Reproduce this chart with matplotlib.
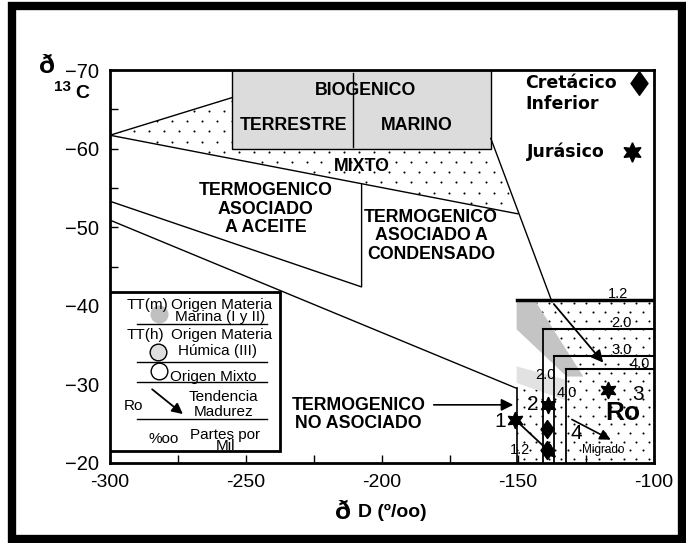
import numpy as np
import matplotlib.pyplot as plt
from matplotlib.patches import Polygon, Rectangle

plt.rcParams['font.family'] = ['Liberation Sans', 'DejaVu Sans']

# --- zonas del diagrama (dD, d13C) ---
bio_x = [-255, -160]
bio_y = [-70, -60]
bio_div_x = -210.5
mixto_x = [-300, -255, -255, -160, -150]
mixto_y = [-61.7, -66.5, -60, -60, -51.7]
aceite_x = [-300, -207.5, -207.5]
aceite_y = [-53.3, -42.4, -55.5]
noasoc_x = [-300, -150.5]
noasoc_y = [-50.9, -29.5]
tend_x = [-160, -137.5, -118]
tend_y = [-61.3, -40.5, -32.5]

# cajas de Ro
ro_labels = ['1.2', '2.0', '3.0', '4.0']
ro_left = [-150.5, -140.7, -136.8, -132.4]
ro_top = [-40.7, -37.1, -33.6, -31.9]
ro_lab_x = [-113.1, -111.9, -111.9, -105.1]
ro_lab2 = ['2.0', '4.0', '1.2']
ro_lab2_x = [-140, -132.1, -149.3]
ro_lab2_y = [-31.2, -28.9, -21.7]
bandaA_x = [-150.5, -143.8, -126.0, -132.1, -150.5]
bandaA_y = [-40.7, -40.7, -31.0, -31.0, -37.0]
bandaB_x = [-150.5, -150.5, -132.7, -132.7]
bandaB_y = [-32.3, -30.2, -28.0, -30.6]
punt_ro_x = [-143.8, -100, -100, -150.5, -150.5, -132]
punt_ro_y = [-40.7, -40.7, -20, -20, -31, -31]

# muestras
jur_x = [-151, -138.9, -116.8]
jur_y = [-25.5, -27.4, -29.3]
cret_x = [-139.5, -139.5]
cret_y = [-24.3, -21.7]
num_lab = ['1', '2', '3', '4']
num_x = [-156.6, -144.4, -105.8, -128.5]
num_y = [-25.3, -27.4, -28.7, -23.8]
mig_ini = (-131.1, -25.7)
mig_fin = (-115, -22.8)
m1_fin = (-135.2, -20.4)

rombo = [(0, 1), (0.72, 0), (0, -1), (-0.72, 0), (0, 1)]

fig = plt.figure(figsize=(6.86, 5.43), dpi=100)
ax = fig.add_axes([110/686, 80/543, 544/686, 393/543])
ax.set_xlim(-300, -100)
ax.set_ylim(-20, -70)


def puntos(xs, ys, dx, dy):
    poly = Polygon(list(zip(xs, ys)), closed=True, fill=False, ec='none')
    ax.add_patch(poly)
    gx, gy = np.meshgrid(np.arange(-302, -98, dx), np.arange(-70, -19, dy))
    gx[1::2] += dx / 2
    sc = ax.scatter(gx.ravel(), gy.ravel(), s=2.2, c='k', lw=0, zorder=1.5)
    sc.set_clip_path(poly)


# biogenico
ax.add_patch(Rectangle((bio_x[0], bio_y[0]), bio_x[1] - bio_x[0], bio_y[1] - bio_y[0],
                       fc='#dcdcdc', ec='black', lw=1, zorder=2))
ax.plot([bio_div_x, bio_div_x], [-69.6, -60.2], color='black', lw=1, zorder=3)

# mixto punteado
puntos(mixto_x, mixto_y, 5.5, 1.3)
ax.plot(mixto_x[:2], mixto_y[:2], color='black', lw=1)
ax.plot([mixto_x[0], mixto_x[-1]], [mixto_y[0], mixto_y[-1]], color='black', lw=1)
ax.plot(aceite_x, aceite_y, color='black', lw=1)
ax.plot(noasoc_x, noasoc_y, color='black', lw=1)
ax.plot(tend_x[:2], tend_y[:2], color='black', lw=1)
ax.annotate('', xy=(tend_x[2], tend_y[2]), xytext=(tend_x[1], tend_y[1]),
            arrowprops=dict(arrowstyle='-|>', mutation_scale=18, lw=1.3, color='black'))

# zona Ro
puntos(punt_ro_x, punt_ro_y, 4.6, 1.1)
ax.fill(bandaA_x, bandaA_y, color='#c4c4c4', lw=0, zorder=2)
ax.fill(bandaB_x, bandaB_y, color='#e2e2e2', lw=0, zorder=2)
for i, (l, t) in enumerate(zip(ro_left, ro_top)):
    w = 2.5 if i == 0 else 1.5
    ax.plot([l, -100], [t, t], color='black', lw=w, zorder=3)
    if i == 0:
        ax.plot([l, l], [noasoc_y[1], -20], color='black', lw=1.2, zorder=3)
    else:
        ax.plot([l, l], [t, -20], color='black', lw=1.3, zorder=3)
    ax.text(ro_lab_x[i], t + 0.15, ro_labels[i], fontsize=10.5, ha='center',
            va='bottom', zorder=6)
for lab, x, y in zip(ro_lab2, ro_lab2_x, ro_lab2_y):
    ax.text(x, y, lab, fontsize=10.5, ha='center', va='center', zorder=6)

# muestras
ax.plot(jur_x, jur_y, ls='none', marker=(6, 1, 0), ms=12, color='black', zorder=5)
ax.plot(cret_x, cret_y, ls='none', marker=rombo, ms=13, color='black', zorder=5)
for lab, x, y in zip(num_lab, num_x, num_y):
    ax.text(x, y, lab, fontsize=15, ha='center', va='center', zorder=6)
ax.annotate('', xy=m1_fin, xytext=(jur_x[0], jur_y[0]),
            arrowprops=dict(arrowstyle='-|>', mutation_scale=20, lw=1.3, color='black'),
            zorder=5)
ax.annotate('', xy=mig_fin, xytext=mig_ini,
            arrowprops=dict(arrowstyle='-|>', mutation_scale=16, lw=1.2, color='black'),
            zorder=5)
ax.text(-111.3, -26.4, 'Ro', fontsize=19, fontweight='bold', ha='center', va='center', zorder=6)
ax.text(-118.6, -21.7, 'Migrado', fontsize=8.5, ha='center', va='center', zorder=6)

# rotulos de zonas
kw = dict(fontsize=12.8, fontweight='bold', ha='center', va='center', linespacing=1.1, zorder=6)
ax.text(-206.1, -67.4, 'BIOGENICO', **kw)
ax.text(-232.4, -63.0, 'TERRESTRE', **kw)
ax.text(-187.3, -63.0, 'MARINO', **kw)
ax.text(-207.5, -57.7, 'MIXTO', **kw)
ax.text(-242.8, -52.3, 'TERMOGENICO\nASOCIADO\nA ACEITE', **kw)
ax.text(-182, -48.9, 'TERMOGENICO\nASOCIADO A\nCONDENSADO', **kw)
ax.text(-208.6, -26.2, 'TERMOGENICO\nNO ASOCIADO', **kw)
ax.annotate('', xy=(-150.7, -27.4), xytext=(-182, -27.4),
            arrowprops=dict(arrowstyle='-|>', mutation_scale=18, lw=1.2, color='black'))

# leyenda derecha
rk = dict(fontsize=12.5, fontweight='bold', family='DejaVu Sans', va='center')
ax.text(-147.4, -68.3, 'Cretácico', **rk)
ax.text(-147.4, -65.7, 'Inferior', **rk)
ax.text(-146.7, -59.6, 'Jurásico', **rk)
ax.plot([-105.6], [-68.3], marker=rombo, ms=17, color='black', ls='none')
ax.plot([-108], [-59.6], marker=(6, 1, 0), ms=14, color='black', ls='none')

# leyenda izquierda
ax.add_patch(Rectangle((-300, -41.8), 62.5, 20.3, fc='white', ec='black', lw=2, zorder=4))
lk = dict(fontsize=11, va='center', zorder=6)
ax.text(-293.9, -40.1, 'TT(m)', **lk)
ax.text(-277.4, -40.1, 'Origen Materia', **lk)
ax.text(-276.1, -38.6, 'Marina (I y II)', **lk)
ax.text(-293.9, -36.3, 'TT(h)', **lk)
ax.text(-277.4, -36.3, 'Origen Materia', **lk)
ax.text(-275, -34.2, 'Húmica (III)', **lk)
ax.text(-277.9, -31.0, 'Origen Mixto', **lk)
ax.text(-291.4, -27.2, 'Ro', ha='center', **lk)
ax.text(-258.4, -28.4, 'Tendencia', ha='center', **lk)
ax.text(-258.4, -26.5, 'Madurez', ha='center', **lk)
ax.text(-280.4, -23.0, '%oo', ha='center', **lk)
ax.text(-257.7, -23.6, 'Partes por', ha='center', **lk)
ax.text(-257.7, -22.1, 'Mil', ha='center', **lk)
ax.plot([-282], [-38.9], marker='o', ms=13, mfc='#c0c0c0', mec='none', zorder=5)
ax.plot([-282.2], [-34.1], marker='o', ms=12, mfc='#dedede', mec='black', mew=1, zorder=5)
ax.plot([-281.9], [-31.7], marker='o', ms=12, mfc='white', mec='black', mew=1, zorder=5)
for y in [-37.7, -32.9, -30.3, -25.6]:
    ax.plot([-290.2, -242.4], [y, y], color='black', lw=1, zorder=5)
ax.annotate('', xy=(-272.4, -26.0), xytext=(-285.3, -29.6),
            arrowprops=dict(arrowstyle='-|>', mutation_scale=16, lw=1.3, color='black'),
            zorder=6)

# ejes
ax.set_xticks([-300, -250, -200, -150, -100])
ax.set_xticklabels(['-300', '-250', '-200', '-150', '-100'])
ax.set_xticks(np.arange(-300, -99, 25), minor=True)
ax.set_yticks([-70, -60, -50, -40, -30, -20])
ax.set_yticklabels(['\u221270', '\u221260', '\u221250', '\u221240', '\u221230', '\u221220'])
ax.set_yticks(np.arange(-70, -19, 5), minor=True)
ax.tick_params(axis='both', which='both', direction='in', length=6, width=1)
ax.tick_params(axis='x', labelsize=14, pad=8)
ax.tick_params(axis='y', labelsize=14.5, pad=8)
for s in ax.spines.values():
    s.set_linewidth(2)

fig.text(47/686, 1 - 66/543, 'ð', fontsize=19, fontweight='bold', ha='center', va='center')
fig.text(62.5/686, 1 - 87/543, '13', fontsize=11, fontweight='bold', ha='center', va='center')
fig.text(82/686, 1 - 94/543, 'C', fontsize=14, fontweight='bold', ha='center', va='center')
fig.text(343/686, 1 - 512/543, 'ð', fontsize=19, fontweight='bold', ha='center', va='center')
fig.text(358/686, 1 - 512/543, 'D (º/oo)', fontsize=14, fontweight='bold', ha='left', va='center')

# marco
fig.patches.append(Rectangle((11.5/686, 4/543), 670.5/686, 533/543, transform=fig.transFigure,
                             fill=False, ec='black', lw=6))

fig.savefig('out.png', dpi=100)
